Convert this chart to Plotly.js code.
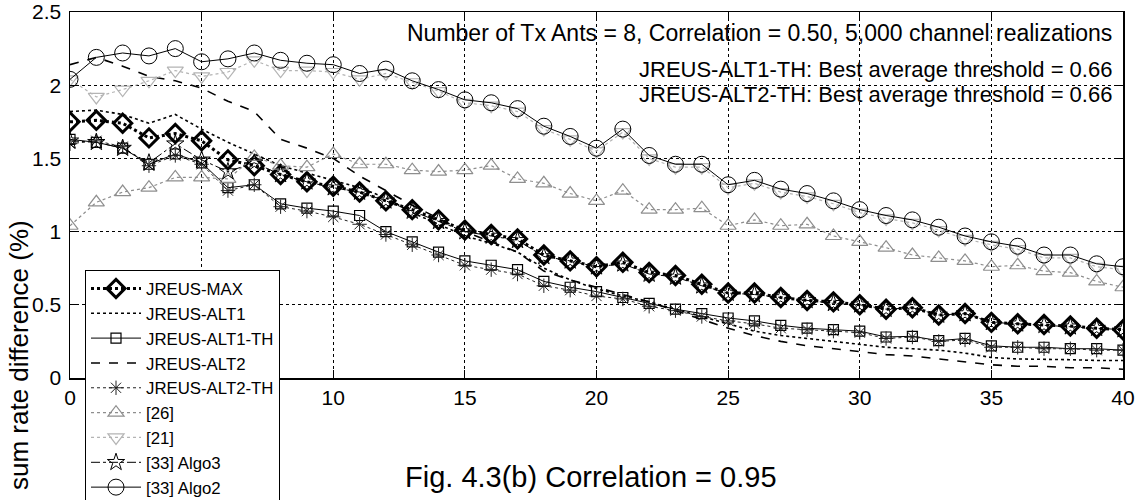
<!DOCTYPE html>
<html>
<head>
<meta charset="utf-8">
<script src="https://cdn.plot.ly/plotly-3.0.1.min.js"></script>
<style>html,body{margin:0;padding:0;background:#fff;}#chart{width:1141px;height:500px;}</style>
</head>
<body>
<div id="chart"></div>
<script>
// Number of users (x axis)
const xVals = [0,1,2,3,4,5,6,7,8,9,10,11,12,13,14,15,16,17,18,19,20,21,22,23,24,25,26,27,28,29,30,31,32,33,34,35,36,37,38,39,40];

const jreusMax = [1.75,1.76,1.74,1.64,1.67,1.62,1.49,1.45,1.39,1.34,
  1.31,1.27,1.21,1.15,1.08,1.01,0.98,0.95,0.84,0.80,
  0.76,0.79,0.72,0.70,0.64,0.58,0.58,0.55,0.53,0.52,
  0.50,0.47,0.48,0.43,0.44,0.38,0.37,0.365,0.355,0.34,0.33];
const jreusAlt1 = [1.82,1.83,1.80,1.74,1.80,1.70,1.61,1.53,1.45,1.40,
  1.35,1.30,1.23,1.13,1.05,0.97,0.92,0.86,0.75,0.67,
  0.61,0.56,0.52,0.47,0.42,0.37,0.32,0.29,0.27,0.25,
  0.23,0.21,0.20,0.19,0.17,0.14,0.13,0.13,0.125,0.12,0.12];
const jreusAlt1Th = [1.63,1.61,1.57,1.46,1.53,1.47,1.30,1.32,1.19,1.16,
  1.14,1.11,1.00,0.93,0.86,0.80,0.77,0.74,0.66,0.62,
  0.59,0.55,0.51,0.47,0.44,0.41,0.39,0.36,0.34,0.33,
  0.32,0.28,0.285,0.255,0.27,0.22,0.21,0.21,0.20,0.20,0.19];
const jreusAlt2 = [2.14,2.19,2.13,2.06,2.03,1.98,1.89,1.82,1.63,1.57,
  1.50,1.38,1.28,1.18,1.09,1.00,0.93,0.86,0.73,0.67,
  0.62,0.57,0.52,0.46,0.40,0.34,0.29,0.25,0.22,0.20,
  0.18,0.16,0.15,0.13,0.11,0.09,0.08,0.08,0.07,0.07,0.06];
const jreusAlt2Th = [1.60,1.62,1.58,1.45,1.52,1.46,1.28,1.32,1.17,1.14,
  1.10,1.05,0.98,0.91,0.84,0.77,0.74,0.71,0.63,0.60,
  0.56,0.54,0.49,0.46,0.42,0.39,0.37,0.34,0.33,0.32,
  0.31,0.27,0.28,0.25,0.26,0.21,0.21,0.20,0.20,0.19,0.19];
const ref26 = [1.04,1.20,1.27,1.30,1.37,1.37,1.36,1.51,1.45,1.44,
  1.53,1.46,1.46,1.42,1.41,1.42,1.45,1.36,1.33,1.26,
  1.21,1.28,1.15,1.15,1.16,1.04,1.08,1.04,1.05,0.97,
  0.93,0.89,0.84,0.82,0.80,0.76,0.77,0.73,0.72,0.66,0.62];
const ref21 = [2.04,1.92,1.97,2.03,2.10,2.06,2.09,2.17,2.10,2.10,
  2.09,2.04,2.08,2.02,1.96,1.88,1.86,1.82,1.70,1.63,
  1.55,1.68,1.50,1.44,1.44,1.30,1.33,1.27,1.24,1.19,
  1.13,1.09,1.06,1.01,0.95,0.91,0.88,0.82,0.82,0.76,0.74];
const ref33Algo3 = [1.62,1.61,1.57,1.47,1.60,1.49,1.41,1.47,1.39,1.34,
  1.30,1.27,1.21,1.14,1.07,1.00,0.97,0.94,0.83,0.80,
  0.76,0.78,0.71,0.69,0.63,0.58,0.57,0.55,0.53,0.51,
  0.50,0.47,0.48,0.43,0.44,0.38,0.37,0.36,0.35,0.34,0.33];
const ref33Algo2 = [2.04,2.19,2.22,2.20,2.25,2.16,2.18,2.22,2.17,2.15,
  2.14,2.08,2.11,2.03,1.97,1.90,1.88,1.84,1.72,1.65,
  1.57,1.70,1.52,1.46,1.46,1.32,1.35,1.29,1.26,1.21,
  1.15,1.11,1.08,1.03,0.97,0.93,0.90,0.84,0.84,0.78,0.76];

const seriesNames = ["JREUS-MAX","JREUS-ALT1","JREUS-ALT1-TH","JREUS-ALT2","JREUS-ALT2-TH","[26]","[21]","[33] Algo3","[33] Algo2"];
const xTickVals = [0,5,10,15,20,25,30,35,40];
const xTickText = ["0","","10","15","20","25","30","35","40"]; // "5" is hidden behind the legend
const annotationLines = [
  "Number of Tx Ants = 8, Correlation = 0.50, 5,000 channel realizations",
  "JREUS-ALT1-TH: Best average threshold = 0.66",
  "JREUS-ALT2-TH: Best average threshold = 0.66"
];
const captionText = "Fig. 4.3(b) Correlation = 0.95";
const yTitleText = "sum rate difference (%)";

const FONT = "'Liberation Sans', Arial, sans-serif";

function tr(y, name, color, width, dash, symbol, msize, mlw) {
  const t = {x: xVals, y: y, name: name, type: 'scatter',
    mode: symbol ? 'lines+markers' : 'lines',
    line: {color: color, width: width, dash: dash}};
  if (symbol) t.marker = {symbol: symbol, size: msize, color: color, line: {color: color, width: mlw}};
  return t;
}

const data = [
  tr(jreusMax, seriesNames[0], '#000', 3, 'dot', 'diamond-open', 14, 3),
  tr(jreusAlt1, seriesNames[1], '#000', 1.6, 'dot', null),
  tr(jreusAlt1Th, seriesNames[2], '#000', 1, 'solid', 'square-open', 10, 1.2),
  tr(jreusAlt2, seriesNames[3], '#000', 1.6, 'dash', null),
  tr(jreusAlt2Th, seriesNames[4], '#222', 1, 'dot', 'asterisk-open', 12, 1),
  tr(ref26, seriesNames[5], '#8e8e8e', 1.2, 'dot', 'triangle-up-open', 14, 1.2),
  tr(ref21, seriesNames[6], '#b4b4b4', 1.2, 'dot', 'triangle-down-open', 14, 1.2),
  tr(ref33Algo3, seriesNames[7], '#000', 1, 'dashdot', 'star-open', 13, 1),
  tr(ref33Algo2, seriesNames[8], '#000', 1, 'solid', 'circle-open', 16, 1)
];

const L = 70, R = 1123, T = 12, B = 378;
const px = v => (v - L) / (R - L);
const py = v => (B - v) / (B - T);

const layout = {
  width: 1141, height: 500,
  margin: {l: L, r: 1141 - R, t: T, b: 500 - B, autoexpand: false},
  paper_bgcolor: '#fff', plot_bgcolor: '#fff',
  font: {family: FONT, color: '#000', size: 20},
  showlegend: true,
  xaxis: {range: [0, 40], tickvals: xTickVals, ticktext: xTickText, showgrid: true, gridcolor: '#000', griddash: '3px,3px', gridwidth: 1,
    zeroline: false, showline: true, linecolor: '#000', linewidth: 1.5, mirror: 'ticks', ticks: 'inside', ticklen: 8,
    tickcolor: '#000', tickfont: {size: 21, family: FONT}, automargin: false},
  yaxis: {range: [0, 2.5], dtick: 0.5, tick0: 0, showgrid: true, gridcolor: '#000', griddash: '3px,3px', gridwidth: 1,
    zeroline: false, showline: true, linecolor: '#000', linewidth: 1.5, mirror: 'ticks', ticks: 'inside', ticklen: 8,
    tickcolor: '#000', tickfont: {size: 21, family: FONT}, ticklabelstandoff: 3, automargin: false},
  legend: {x: px(85), y: py(270), xanchor: 'left', yanchor: 'top', bgcolor: '#fff', bordercolor: '#000', borderwidth: 1,
    font: {size: 16.8, family: FONT}, itemwidth: 50, tracegroupgap: 0},
  annotations: [
    {text: annotationLines[0], xref: 'paper', yref: 'paper', x: px(1114), y: py(33), xanchor: 'right', yanchor: 'middle', showarrow: false, font: {size: 23, family: FONT}},
    {text: annotationLines[1], xref: 'paper', yref: 'paper', x: px(1114), y: py(69.5), xanchor: 'right', yanchor: 'middle', showarrow: false, font: {size: 22, family: FONT}},
    {text: annotationLines[2], xref: 'paper', yref: 'paper', x: px(1114), y: py(94.5), xanchor: 'right', yanchor: 'middle', showarrow: false, font: {size: 22, family: FONT}},
    {text: captionText, xref: 'paper', yref: 'paper', x: px(591), y: py(477), xanchor: 'center', yanchor: 'middle', showarrow: false, font: {size: 29, family: FONT}},
    {text: yTitleText, xref: 'paper', yref: 'paper', x: px(19), y: py(355), xanchor: 'center', yanchor: 'middle', textangle: -90, showarrow: false, font: {size: 26, family: FONT}}
  ]
};

Plotly.newPlot('chart', data, layout, {staticPlot: true, displayModeBar: false});
</script>
</body>
</html>
